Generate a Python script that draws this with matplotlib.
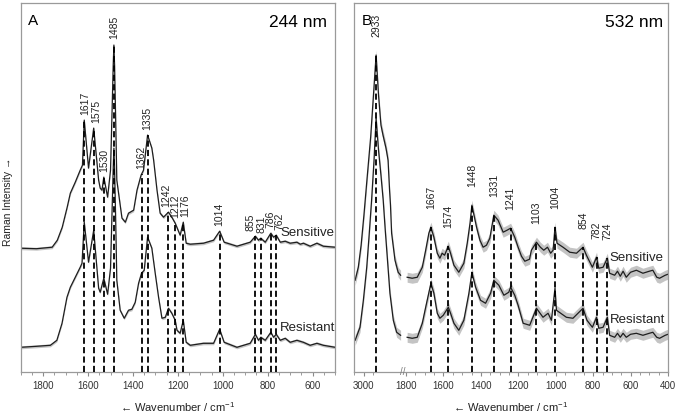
import numpy as np
import matplotlib.pyplot as plt
from matplotlib.ticker import FixedLocator, MultipleLocator
import matplotlib.transforms as mtransforms

plt.rcParams["font.family"] = ["Liberation Sans", "DejaVu Sans"]
plt.rcParams["mathtext.default"] = "regular"

# ---- panel A, 244 nm ----
wA = np.array([1900, 1830, 1760, 1737, 1715, 1693, 1679, 1657, 1635, 1625, 1617, 1598, 1575, 1553,
               1546, 1538, 1530, 1513, 1500, 1493, 1488, 1485, 1482, 1477, 1472, 1449, 1434, 1420,
               1397, 1382, 1364, 1353, 1335, 1316, 1308, 1293, 1279, 1264, 1242, 1227, 1212, 1190,
               1176, 1163, 1145, 1086, 1041, 1014, 994, 937, 878, 855, 841, 831, 811, 786, 774, 762,
               744, 722, 700, 670, 655, 641, 611, 581, 552, 500])
sensA = np.array([124, 123.5, 125, 132, 145, 165, 179, 190, 202, 207, 252, 204, 244, 192,
                  184, 182, 195, 175, 202, 262, 307, 327, 307, 252, 192, 154, 150, 159,
                  162, 182, 197, 202, 237, 224, 212, 182, 159, 155, 160, 155, 149, 137,
                  150, 129, 128, 129, 132, 141, 130, 126, 130, 136, 132, 134, 130, 139, 135, 137,
                  130, 131, 129, 130, 128, 129, 126, 129, 126, 125])

wA_r = np.array([1900, 1830, 1768, 1739, 1716, 1694, 1679, 1657, 1635, 1627, 1617, 1598, 1575, 1553,
                 1546, 1530, 1513, 1500, 1493, 1488, 1485, 1482, 1477, 1472, 1457, 1439, 1420, 1405,
                 1390, 1375, 1362, 1350, 1335, 1316, 1301, 1286, 1271, 1256, 1242, 1227, 1212, 1204,
                 1190, 1176, 1163, 1145, 1086, 1041, 1014, 994, 937, 878, 855, 841, 831, 811, 786,
                 774, 762, 744, 722, 700, 670, 641, 611, 581, 552, 500])
resA = np.array([25, 26, 27, 32, 49, 75, 85, 95, 105, 109, 150, 110, 142, 84,
                 80, 94, 78, 104, 162, 204, 224, 204, 152, 92, 62, 54, 62, 63,
                 70, 89, 99, 102, 135, 124, 99, 75, 54, 55, 64, 59, 52, 42,
                 39, 52, 30, 27, 29, 29, 43, 30, 25, 29, 38, 32, 35, 32, 40,
                 35, 38, 32, 34, 30, 32, 30, 27, 29, 27, 25])

peaksA = [1617, 1575, 1530, 1485, 1362, 1335, 1242, 1212, 1176, 1014, 855, 831, 786, 762]

# ---- panel B, 532 nm (C-H region and fingerprint region) ----
wB_hi = np.array([3045, 3028, 3013, 2998, 2982, 2962, 2947, 2933, 2920, 2907, 2896, 2880, 2869,
                  2861, 2856, 2850, 2832, 2815, 2802])
sensB_hi = np.array([92, 105, 127, 157, 192, 235, 277, 317, 277, 247, 237, 224, 212,
                     182, 167, 139, 112, 100, 97])
wB_hi_r = np.array([3045, 3019, 3001, 2983, 2971, 2957, 2944, 2933, 2920, 2907, 2895, 2884, 2876,
                    2859, 2841, 2823, 2802])
resB_hi = np.array([32, 45, 72, 105, 135, 172, 212, 254, 222, 197, 172, 142, 122,
                    79, 52, 40, 37])

wB = np.array([1794, 1767, 1740, 1713, 1695, 1678, 1667, 1651, 1633, 1619, 1607, 1594, 1574, 1562,
               1544, 1518, 1491, 1473, 1458, 1448, 1423, 1405, 1388, 1370, 1352, 1331, 1308, 1281,
               1260, 1241, 1219, 1201, 1183, 1165, 1140, 1130, 1103, 1082, 1064, 1044, 1027, 1014,
               1004, 993, 961, 925, 889, 854, 836, 804, 782, 770, 747, 724, 712, 685, 670, 655,
               640, 623, 600, 569, 534, 500, 481, 460, 445, 415, 400])
sensB = np.array([95, 94, 95, 105, 122, 139, 145, 135, 119, 114, 119, 117, 126, 119,
                  107, 100, 109, 129, 149, 167, 145, 132, 125, 127, 134, 157, 152, 140,
                  142, 144, 135, 125, 116, 111, 113, 122, 130, 125, 122, 125, 119, 122,
                  145, 129, 125, 120, 119, 125, 117, 105, 115, 104, 105, 114, 99, 97, 101, 96,
                  101, 95, 100, 102, 99, 101, 102, 95, 94, 97, 98])
wB_r = np.array([1794, 1767, 1740, 1713, 1695, 1667, 1651, 1633, 1619, 1601, 1574, 1562, 1544,
                 1518, 1491, 1464, 1448, 1428, 1402, 1375, 1348, 1331, 1304, 1277, 1251, 1241,
                 1219, 1201, 1174, 1139, 1103, 1068, 1041, 1023, 1004, 996, 943, 908, 854, 833,
                 804, 782, 770, 747, 724, 712, 685, 670, 655, 640, 623, 600, 569, 534, 500, 481,
                 460, 445, 415, 400])
resB = np.array([35, 34, 35, 49, 65, 89, 79, 59, 54, 57, 65, 59, 49,
                 42, 52, 79, 100, 85, 72, 69, 79, 92, 87, 77, 80, 85,
                 77, 67, 49, 47, 64, 55, 59, 52, 84, 62, 55, 54, 64, 52,
                 45, 55, 44, 45, 55, 37, 35, 39, 35, 39, 35, 38, 39, 37, 39, 40,
                 35, 34, 37, 38])

peaksB_hi = [2933]
peaksB = [1667, 1574, 1448, 1331, 1241, 1103, 1004, 854, 782, 724]

sdA = 1.5
sdB = 5.0
shift = 973  # high-wavenumber block is drawn shifted next to 1800 (broken axis)

# small sideways nudges (points) so crowded labels sit side by side
nudge = {1617: 1, 1575: 1.5, 1242: -1.5, 1176: 1.5, 855: -3.5, 831: 0.5, 786: -0.5, 762: 2.5}

line_c = "#1e1e1e"
band_c = "#c4c4c4"
dash = (0, (3.4, 1.8))


def spectrum(ax, w, y, sd, xoff=0):
    ax.fill_between(w - xoff, y - sd, y + sd, color=band_c, lw=0)
    ax.plot(w - xoff, y, color=line_c, lw=0.9)


def marks(ax, peaks, w, y, off, xoff=0):
    for p in peaks:
        top = np.interp(p, w[::-1], y[::-1])
        ax.vlines(p - xoff, 0, top, colors="k", lw=1.3, linestyles=dash, zorder=3)
        ax.annotate(str(p), (p - xoff, top), xytext=(nudge.get(p, 0), off),
                    textcoords="offset points", rotation=90, ha="center", va="bottom",
                    fontsize=7.5, color="#222222")


def style(ax):
    for s in ax.spines.values():
        s.set_color("#9a9a9a")
        s.set_linewidth(0.9)
    ax.set_yticks([])
    ax.tick_params(axis="x", which="both", direction="out", colors="#8a8a8a",
                   labelcolor="#333333", labelsize=7, pad=3.5)
    ax.tick_params(axis="x", which="major", length=3)
    ax.tick_params(axis="x", which="minor", length=2.5)
    ax.set_ylim(0, 369)


fig = plt.figure(figsize=(6.77, 4.13), dpi=100)
axA = fig.add_axes([0.0306, 0.0985, 0.4643, 0.8942])
axB = fig.add_axes([0.5229, 0.0985, 0.4638, 0.8942])

# panel A
spectrum(axA, wA, sensA, sdA)
spectrum(axA, wA_r, resA, sdA)
marks(axA, peaksA, wA, sensA, 4)
style(axA)
axA.set_xlim(1900, 500)
axA.xaxis.set_major_locator(FixedLocator([1800, 1600, 1400, 1200, 1000, 800, 600]))
axA.xaxis.set_minor_locator(MultipleLocator(50))
axA.text(744, 139, "Sensitive", fontsize=9.5, va="center", ha="left", color="#222222")
axA.text(744, 44, "Resistant", fontsize=9.5, va="center", ha="left", color="#222222")
axA.text(0.023, 0.94, "A", transform=axA.transAxes, fontsize=11, va="baseline")
axA.text(0.975, 0.935, "244 nm", transform=axA.transAxes, fontsize=12.5, va="baseline", ha="right")
axA.text(0.5, -0.094, "\u2190 Wavenumber / cm$^{-1}$", transform=axA.transAxes,
         ha="center", va="center", fontsize=8, color="#222222")

# panel B
spectrum(axB, wB_hi, sensB_hi, sdB, shift)
spectrum(axB, wB_hi_r, resB_hi, sdB, shift)
spectrum(axB, wB, sensB, sdB)
spectrum(axB, wB_r, resB, sdB)
marks(axB, peaksB_hi, wB_hi, sensB_hi, 13, shift)
marks(axB, peaksB, wB, sensB, 13)
style(axB)
axB.set_xlim(2078, 400)
axB.xaxis.set_major_locator(FixedLocator([3000 - shift, 1800, 1600, 1400, 1200, 1000, 800, 600, 400]))
axB.set_xticklabels(["3000", "1800", "1600", "1400", "1200", "1000", "800", "600", "400"])
axB.xaxis.set_minor_locator(FixedLocator(list(range(450, 1800, 50)) + [3050 - shift, 2950 - shift]))
trans = mtransforms.blended_transform_factory(axB.transData, axB.transAxes)
axB.text(1816, 0, "//", transform=trans, ha="center", va="center", fontsize=7,
         color="#7a7a7a", clip_on=False)
axB.text(712, 114, "Sensitive", fontsize=9.5, va="center", ha="left", color="#222222")
axB.text(712, 52, "Resistant", fontsize=9.5, va="center", ha="left", color="#222222")
axB.text(0.025, 0.94, "B", transform=axB.transAxes, fontsize=11, va="baseline")
axB.text(0.984, 0.935, "532 nm", transform=axB.transAxes, fontsize=12.5, va="baseline", ha="right")
axB.text(0.5, -0.094, "\u2190 Wavenumber / cm$^{-1}$", transform=axB.transAxes,
         ha="center", va="center", fontsize=8, color="#222222")

fig.text(0.0118, 0.511, "Raman Intensity \u2192", rotation=90, ha="center", va="center",
         fontsize=7.5, color="#222222")

fig.savefig("out.png", dpi=100)
